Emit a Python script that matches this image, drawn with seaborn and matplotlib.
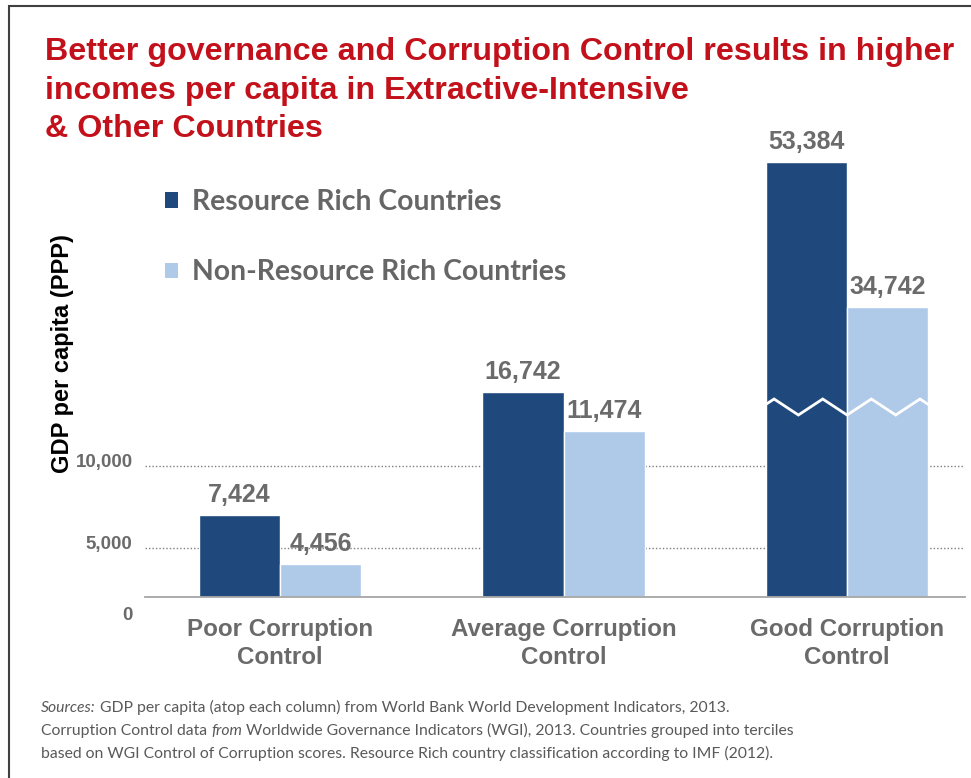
import numpy as np
import pandas as pd
import matplotlib
matplotlib.use("Agg")
import matplotlib.pyplot as plt
import matplotlib.transforms as mtransforms
from matplotlib.patches import Patch, Rectangle
import seaborn as sns

# --- data ---
CATEGORIES = ["Poor Corruption\nControl", "Average Corruption\nControl", "Good Corruption\nControl"]
GROUPS = ["Resource Rich Countries", "Non-Resource Rich Countries"]
RESOURCE_RICH = [7424, 16742, 53384]
NON_RESOURCE_RICH = [4456, 11474, 34742]
Y_TICKS = [0, 5000, 10000]
Y_TICK_LABELS = ["0", "5,000", "10,000"]

# the original axis is hand-stretched (and broken on the last group),
# so the value axis is a piecewise scale: value -> drawn height
SCALE_VALUES = [0, 4456, 5000, 7424, 10000, 11474, 16742, 34742, 53384, 60000]
SCALE_HEIGHTS = [0, 33, 49, 82, 131, 166, 205, 290, 435, 486]
BREAK_HEIGHTS = (182, 198)  # zigzag valley / peak in drawn-height units

TITLE_LINES = ["Better governance and Corruption Control results in higher",
               "incomes per capita in Extractive-Intensive",
               "& Other Countries"]
FOOTNOTE = [
    [("Sources:", "italic"), (" GDP per capita (atop each column) from World Bank World Development Indicators, 2013.", "normal")],
    [("Corruption Control data ", "normal"), ("from", "italic"), (" Worldwide Governance Indicators (WGI), 2013. Countries grouped into terciles", "normal")],
    [("based on WGI Control of Corruption scores. Resource Rich country classification according to IMF (2012).", "normal")],
]

DARK = "#1F497D"
LIGHT = "#AFC9E9"
RED = "#C3111B"
GREY = "#6B6B6B"
BAR_WIDTH = 0.572

W, H = 971, 778

sns.set_theme(style="white")
plt.rcParams["font.family"] = ["Liberation Sans", "DejaVu Sans"]


def fwd(v):
    return np.interp(np.asarray(v, dtype=float), SCALE_VALUES, SCALE_HEIGHTS)


def inv(h):
    return np.interp(np.asarray(h, dtype=float), SCALE_HEIGHTS, SCALE_VALUES)


df = pd.DataFrame({
    "category": CATEGORIES * 2,
    "group": [GROUPS[0]] * 3 + [GROUPS[1]] * 3,
    "gdp": RESOURCE_RICH + NON_RESOURCE_RICH,
})

fig = plt.figure(figsize=(W / 100, H / 100), dpi=100)
ax = fig.add_axes([145 / W, (H - 597) / H, 820 / W, 486 / H])

sns.barplot(data=df, x="category", y="gdp", hue="group", order=CATEGORIES,
            hue_order=GROUPS, palette=[DARK, LIGHT], saturation=1,
            width=BAR_WIDTH, gap=0, errorbar=None, legend=False, ax=ax)

ax.set_yscale("function", functions=(fwd, inv))
ax.set_ylim(0, 60000)
ax.set_xlim(-0.476, 2.416)

# gridlines only at the ticks, dotted
ax.set_yticks(Y_TICKS, Y_TICK_LABELS)
ax.yaxis.grid(True, linestyle=(0, (1, 1.5)), color="#7F7F7F", lw=1)
ax.xaxis.grid(False)
ax.set_axisbelow(True)

for s in ["left", "right", "top"]:
    ax.spines[s].set_visible(False)
ax.spines["bottom"].set_color("#A6A6A6")
ax.spines["bottom"].set_linewidth(1.3)
ax.spines["bottom"].set_zorder(4)

ax.set_xlabel("")
ax.set_ylabel("GDP per capita (PPP)", fontsize=17, fontweight="bold", color="black")
ax.yaxis.set_label_coords(-0.087, 0.5)

ax.tick_params(axis="x", length=0, pad=15, labelsize=17.4, labelcolor="#6A6A6A")
ax.tick_params(axis="y", length=0, pad=9, labelsize=13.5, labelcolor=GREY)
for lbl in ax.get_xticklabels():
    lbl.set_fontweight("bold")
    lbl.set_linespacing(1.27)
for lbl in ax.get_yticklabels():
    lbl.set_fontweight("bold")
    dy = -17 if lbl.get_text() == "0" else 5
    lbl.set_transform(lbl.get_transform() +
                      mtransforms.ScaledTranslation(0, dy / 100, fig.dpi_scale_trans))

# value labels atop each column
for cont, vals in zip(ax.containers, [RESOURCE_RICH, NON_RESOURCE_RICH]):
    ax.bar_label(cont, labels=[f"{v:,}" for v in vals], padding=6,
                 fontsize=18, fontweight="bold", color=GREY)

# zigzag break across the last group
good = len(CATEGORIES) - 1
bw = BAR_WIDTH / 2
hp = bw * 0.3
js = np.arange(-3, 4)
zx = good + js * hp
zh = np.where(js % 2 == 0, BREAK_HEIGHTS[0], BREAK_HEIGHTS[1]).astype(float)
frac = (bw - 3 * hp) / hp
end_h = BREAK_HEIGHTS[1] + (BREAK_HEIGHTS[0] - BREAK_HEIGHTS[1]) * frac
zx = np.concatenate([[good - bw], zx, [good + bw]])
zh = np.concatenate([[end_h], zh, [end_h]])
ax.plot(zx, inv(zh), color="white", lw=2, solid_joinstyle="miter", zorder=5)

# legend
handles = [Patch(facecolor=DARK, edgecolor="none"), Patch(facecolor=LIGHT, edgecolor="none")]
fig.legend(handles, GROUPS, loc="upper left", bbox_to_anchor=(165 / W, 1 - 189 / H),
           frameon=False, prop=dict(family=["Lato", "DejaVu Sans"], weight="bold", size=20.4),
           labelcolor="#666666", handlelength=0.46, handleheight=0.46,
           handletextpad=0.5, labelspacing=1.57, borderpad=0, borderaxespad=0)

# title, one text per line
for i, line in enumerate(TITLE_LINES):
    fig.text(45 / W, 1 - (60 + i * 38.5) / H, line, ha="left", va="baseline",
             fontsize=23.2, fontweight="bold", color=RED)

# footnote, pieces placed one after another
fig.canvas.draw()
renderer = fig.canvas.get_renderer()
for i, line in enumerate(FOOTNOTE):
    x = 41
    y = 712 + i * 23
    for txt, st in line:
        t = fig.text(x / W, 1 - y / H, txt, ha="left", va="baseline", fontsize=11.35,
                     style=st, color="#595959", family=["Lato", "DejaVu Sans"])
        x += t.get_window_extent(renderer).width

# outer frame
fig.add_artist(Rectangle((9 / W, -0.1), 1.2, 1.1 - 6 / H, transform=fig.transFigure,
                         fill=False, edgecolor="#404040", lw=1.5))

fig.savefig("out.png", dpi=100)
